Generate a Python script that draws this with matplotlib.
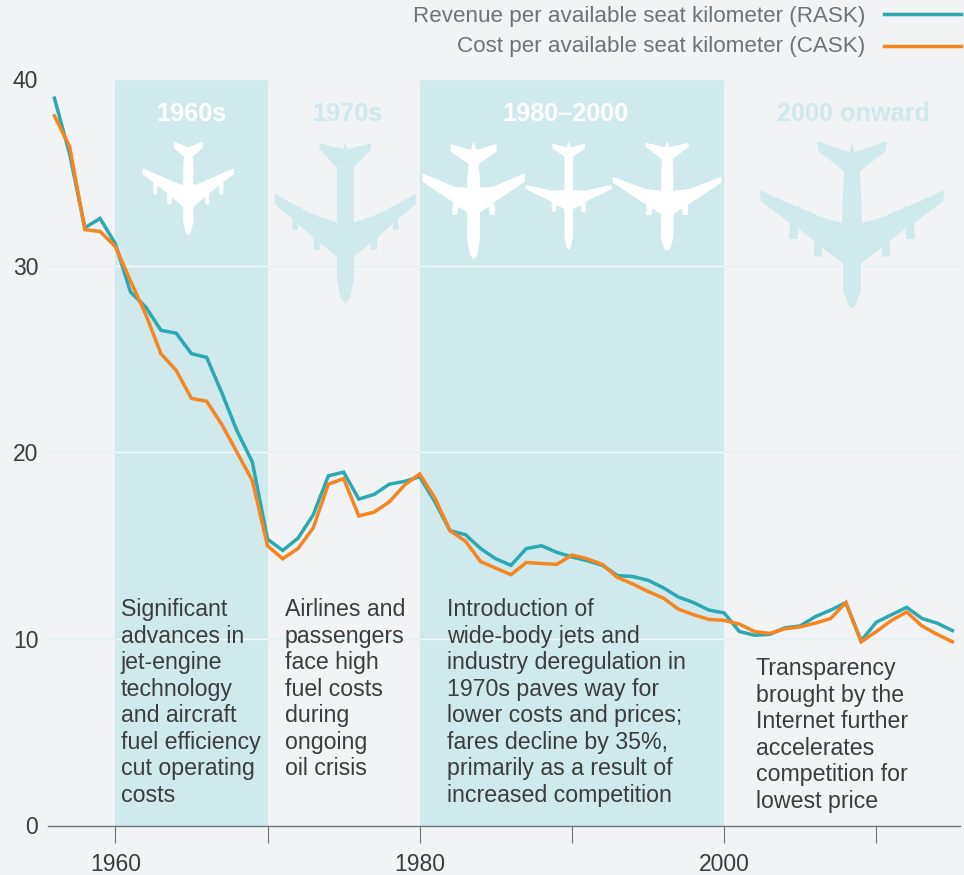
import numpy as np
import matplotlib
matplotlib.use('Agg')
import matplotlib.pyplot as plt
from matplotlib.patches import Polygon
from matplotlib.transforms import Affine2D

plt.rcParams['font.family'] = ['Liberation Sans', 'DejaVu Sans']

# === Data ===
years = list(range(1956, 2016))
rask = [39.0, 36.0, 32.05, 32.55, 31.2, 28.6, 27.8, 26.55, 26.4, 25.3,
        25.1, 23.2, 21.15, 19.5, 15.35, 14.75, 15.4, 16.65, 18.75, 18.95,
        17.5, 17.75, 18.3, 18.45, 18.7, 17.35, 15.8, 15.6, 14.85, 14.3,
        13.95, 14.85, 15.0, 14.65, 14.4, 14.2, 13.95, 13.4, 13.35, 13.15,
        12.75, 12.25, 11.95, 11.55, 11.4, 10.4, 10.2, 10.25, 10.6, 10.7,
        11.2, 11.55, 11.95, 9.9, 10.9, 11.3, 11.7, 11.1, 10.85, 10.45]
cask = [38.05, 36.4, 31.95, 31.85, 31.05, 29.2, 27.4, 25.3, 24.4, 22.9,
        22.75, 21.5, 20.0, 18.5, 15.0, 14.3, 14.85, 15.95, 18.3, 18.6,
        16.6, 16.8, 17.35, 18.25, 18.85, 17.55, 15.8, 15.25, 14.15, 13.8,
        13.45, 14.1, 14.05, 14.0, 14.5, 14.3, 14.0, 13.3, 12.95, 12.55,
        12.2, 11.6, 11.3, 11.05, 11.0, 10.8, 10.4, 10.3, 10.55, 10.65,
        10.85, 11.1, 11.95, 9.85, 10.4, 11.0, 11.45, 10.7, 10.25, 9.85]

y_ticks = [0, 10, 20, 30, 40]
x_ticks = [1960, 1970, 1980, 1990, 2000, 2010]
x_tick_labels = ['1960', '', '1980', '', '2000', '']
band_spans = [(1960, 1970), (1980, 2000)]
era_labels = ['1960s', '1970s', '1980\u20132000', '2000 onward']
era_centres = [1964.97, 1975.26, 1989.6, 2008.5]
notes = [
    'Significant\nadvances in\njet-engine\ntechnology\nand aircraft\nfuel efficiency\ncut operating\ncosts',
    'Airlines and\npassengers\nface high\nfuel costs\nduring\nongoing\noil crisis',
    'Introduction of\nwide-body jets and\nindustry deregulation in\n1970s paves way for\nlower costs and prices;\nfares decline by 35%,\nprimarily as a result of\nincreased competition',
    'Transparency\nbrought by the\nInternet further\naccelerates\ncompetition for\nlowest price',
]
legend_names = ['Revenue per available seat kilometer (RASK)',
                'Cost per available seat kilometer (CASK)']

BG = '#f1f3f5'
BAND = '#cfe9ec'
TEAL = '#2aa9b3'
ORANGE = '#f6851f'
TEXT = '#3c3c3c'
W, H = 964, 875

# half outlines of the plane icons, in zoom-crop units (mirrored around the fuselage)
plane_1960 = [(0, 172), (43, 155), (43, 175), (13, 200), (15, 232), (15, 283), (20, 285),
              (137, 235), (137, 252), (105, 277), (105, 310), (102, 314), (95, 314), (93, 310),
              (93, 286), (63, 310), (63, 340), (60, 344), (53, 344), (50, 340), (50, 320),
              (15, 352), (15, 395), (8, 428), (0, 438)]
plane_1970 = [(0, 155), (6, 178), (77, 160), (77, 178), (25, 232), (25, 398), (60, 386), (62, 380),
              (65, 385), (98, 372), (100, 366), (103, 370), (132, 355), (134, 349), (137, 353),
              (211, 312), (211, 342), (158, 388), (160, 415), (155, 420), (145, 420), (142, 415),
              (146, 398), (95, 443), (95, 475), (90, 480), (78, 480), (75, 470), (80, 456),
              (25, 500), (25, 570), (15, 622), (0, 640)]
plane_a = [(0, 152), (8, 180), (65, 162), (65, 185), (14, 222), (18, 265), (18, 293), (55, 290),
           (145, 250), (145, 275), (57, 338), (60, 350), (60, 375), (47, 375), (43, 350),
           (18, 367), (18, 450), (10, 495), (0, 507)]
plane_b = [(0, 155), (6, 172), (46, 161), (46, 175), (12, 200), (12, 300), (46, 302), (122, 285),
           (122, 297), (48, 335), (48, 365), (36, 365), (34, 345), (12, 358), (12, 440), (6, 472),
           (0, 480)]
plane_c = [(0, 152), (6, 172), (61, 158), (61, 170), (15, 208), (17, 240), (17, 302), (62, 297),
           (154, 260), (154, 278), (58, 345), (60, 375), (44, 375), (42, 355), (18, 372), (18, 440),
           (8, 478), (0, 484)]
plane_2000 = [(0, 155), (7, 187), (98, 153), (95, 183), (22, 245), (25, 300), (27, 360), (28, 398),
              (60, 390), (90, 380), (115, 368), (117, 360), (120, 366), (145, 355), (147, 347),
              (150, 353), (262, 300), (258, 333), (175, 400), (178, 447), (154, 447), (152, 415),
              (105, 455), (108, 500), (85, 500), (85, 473), (25, 520), (25, 600), (10, 645), (0, 655)]


def draw_plane(ax_px, half, cx, top, sx, sy, color):
    pts = np.array(half, dtype=float)
    right = np.column_stack([pts[:, 0] / sx, pts[:, 1] / sy])
    left = right[::-1] * [-1, 1]
    outline = np.vstack([right, left])
    tr = Affine2D().translate(cx, top) + ax_px.transData
    ax_px.add_patch(Polygon(outline, closed=True, facecolor=color, edgecolor='none',
                            transform=tr, zorder=3))


fig = plt.figure(figsize=(W / 100, H / 100), dpi=100, facecolor=BG)

left, right, bottom, top = 48, 960, 825.5, 79.5
ax = fig.add_axes([left / W, 1 - bottom / H, (right - left) / W, (bottom - top) / H], facecolor='none')
ax.set_zorder(1)

# overlay in pixel coordinates for the icons
ax_px = fig.add_axes([0, 0, 1, 1], facecolor='none')
ax_px.set_zorder(2)
ax_px.set_xlim(0, W)
ax_px.set_ylim(H, 0)
ax_px.axis('off')

ax.set_xlim(1960 + (left - 115.3) / 15.22, 1960 + (right - 115.3) / 15.22)
ax.set_ylim(0, 40)

for sp in ['top', 'right', 'left']:
    ax.spines[sp].set_visible(False)
ax.spines['bottom'].set_color('#6f7478')
ax.spines['bottom'].set_linewidth(1.0)

for a, b in band_spans:
    ax.axvspan(a, b, facecolor=BAND, edgecolor='none', zorder=0)

for v in y_ticks[1:]:
    ax.axhline(v, color='#e2f1f3', lw=1.0, zorder=0.5)
    for a, b in band_spans:
        ax.hlines(v, a, b, color='#f4fafb', lw=1.0, zorder=0.6)

ax.set_xticks(x_ticks)
ax.set_xticklabels(x_tick_labels)
ax.set_yticks(y_ticks)
ax.tick_params(axis='x', length=12.2, width=0.8, color='#6f7478', pad=7.5, labelsize=16.5, labelcolor=TEXT)
ax.tick_params(axis='y', length=0, pad=7, labelsize=16.5, labelcolor=TEXT)

ax.plot(years, rask, color=TEAL, lw=2.5, solid_joinstyle='miter', zorder=4)
ax.plot(years, cask, color=ORANGE, lw=2.5, solid_joinstyle='miter', zorder=5)

# era headings
era_colors = ['white', BAND, 'white', BAND]
for name, c, col in zip(era_labels, era_centres, era_colors):
    ax.text(c, 38.15, name, ha='center', va='center', fontsize=18.2, fontweight='bold', color=col, zorder=3)

# plane icons
draw_plane(ax_px, plane_1960, 188.3, 90, 3, 3, 'white')
draw_plane(ax_px, plane_1970, 345.3, 90, 3, 3, BAND)
draw_plane(ax_px, plane_a, 473.6, 90, 2.83, 3, 'white')
draw_plane(ax_px, plane_b, 568.7, 90, 2.83, 3, 'white')
draw_plane(ax_px, plane_c, 667.2, 90, 2.83, 3, 'white')
draw_plane(ax_px, plane_2000, 852, 90, 2.83, 3, BAND)

# annotations
note_x = [121, 285, 447, 756]
note_y = [598, 598, 598, 657]
for s, x, y in zip(notes, note_x, note_y):
    fig.text(x / W, 1 - y / H, s, ha='left', va='top', fontsize=16.7, color=TEXT, linespacing=1.198, zorder=6)

# legend
for name, ty, ly, col in zip(legend_names, [16.5, 46.5], [14, 46], [TEAL, ORANGE]):
    fig.text(865 / W, 1 - ty / H, name, ha='right', va='center', fontsize=16.1, color='#6d7378')
    fig.add_artist(plt.Line2D([884 / W, 961 / W], [1 - ly / H, 1 - ly / H], color=col, lw=2.5,
                              transform=fig.transFigure))

fig.savefig('out.png', dpi=100, facecolor=BG)
